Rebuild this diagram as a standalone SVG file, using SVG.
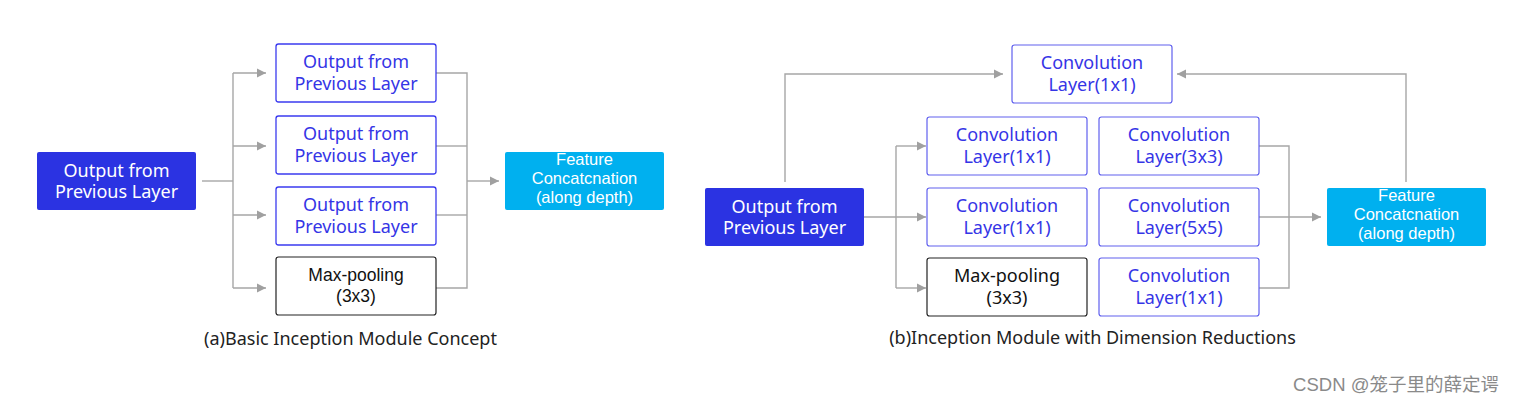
<svg xmlns="http://www.w3.org/2000/svg" width="1517" height="404" viewBox="0 0 1517 404">
<style>
text{font-family:"Noto Sans","Open Sans","Liberation Sans",sans-serif;text-anchor:middle}
.t{font-size:18px;fill:#3535e6}
.tw{font-size:18px;fill:#ffffff}
.tf{font-family:"Liberation Sans","Noto Sans",sans-serif;font-size:16.5px;fill:#ffffff}
.tk{font-size:18px;fill:#111111}
.tks{font-family:"Liberation Sans","Noto Sans",sans-serif;font-size:17.5px;fill:#111111}
.cap{font-size:18px;fill:#222222}
.in{fill:#2b33e2;stroke:none}
.feat{fill:#00b0ef;stroke:none}
.bx{fill:#fff;stroke:#3b3bef;stroke-width:1.3}
.bx2{fill:#fff;stroke:#6060ee;stroke-width:1.2}
.bk{fill:#fff;stroke:#222;stroke-width:1.2}
.ln{fill:none;stroke:#a6a6a6;stroke-width:1.4}
</style>
<defs>
<marker id="ah" viewBox="0 0 10 10" refX="10" refY="5" markerWidth="9" markerHeight="10" markerUnits="userSpaceOnUse" orient="auto">
<path d="M0,0 L10,5 L0,10 z" fill="#a0a0a0"/>
</marker>
</defs>
<rect width="1517" height="404" fill="#fff"/>

<g id="connectors">
<!-- (a) -->
<path class="ln" d="M202,181 H233"/>
<path class="ln" d="M233,73 V288"/>
<path class="ln" d="M233,73 H266" marker-end="url(#ah)"/>
<path class="ln" d="M233,146 H266" marker-end="url(#ah)"/>
<path class="ln" d="M233,215 H266" marker-end="url(#ah)"/>
<path class="ln" d="M233,288 H266" marker-end="url(#ah)"/>
<path class="ln" d="M436,73 H467 V288 H436"/>
<path class="ln" d="M436,146 H467"/>
<path class="ln" d="M436,215 H467"/>
<path class="ln" d="M467,181 H499" marker-end="url(#ah)"/>
<!-- (b) -->
<path class="ln" d="M785,182 V74 H1003" marker-end="url(#ah)"/>
<path class="ln" d="M864,217 H926" marker-end="url(#ah)"/>
<path class="ln" d="M896,146 V288"/>
<path class="ln" d="M896,146 H926" marker-end="url(#ah)"/>
<path class="ln" d="M896,288 H926" marker-end="url(#ah)"/>
<path class="ln" d="M1259,146 H1289 V288 H1259"/>
<path class="ln" d="M1259,217 H1321" marker-end="url(#ah)"/>
<path class="ln" d="M1406,182 V74 H1177" marker-end="url(#ah)"/>
</g>

<!-- (a) nodes -->
<g id="a-input"><rect class="in" x="37" y="152" width="159" height="58" rx="2"/>
<text class="tw" x="116.5" y="177">Output from</text><text class="tw" x="116.5" y="198">Previous Layer</text></g>
<g id="a-out1"><rect class="bx" x="276" y="44" width="160" height="58" rx="2.5"/>
<text class="t" x="356" y="68">Output from</text><text class="t" x="356" y="90">Previous Layer</text></g>
<g id="a-out2"><rect class="bx" x="276" y="116" width="160" height="58" rx="2.5"/>
<text class="t" x="356" y="140">Output from</text><text class="t" x="356" y="162">Previous Layer</text></g>
<g id="a-out3"><rect class="bx" x="276" y="187" width="160" height="58" rx="2.5"/>
<text class="t" x="356" y="211">Output from</text><text class="t" x="356" y="233">Previous Layer</text></g>
<g id="a-pool"><rect class="bk" x="276" y="257" width="160" height="58" rx="2.5"/>
<text class="tks" x="356" y="281">Max-pooling</text><text class="tks" x="356" y="301.5">(3x3)</text></g>
<g id="a-feat"><rect class="feat" x="505" y="152" width="159" height="58" rx="2"/>
<text class="tf" x="584.5" y="165">Feature</text><text class="tf" x="584.5" y="184">Concatcnation</text><text class="tf" x="584.5" y="203">(along depth)</text></g>
<text class="cap" x="350.5" y="345">(a)Basic Inception Module Concept</text>

<!-- (b) nodes -->
<g id="b-input"><rect class="in" x="705" y="188" width="159" height="58" rx="2"/>
<text class="tw" x="784.5" y="213">Output from</text><text class="tw" x="784.5" y="234">Previous Layer</text></g>
<g id="b-top"><rect class="bx2" x="1012" y="45" width="160" height="58" rx="2.5"/>
<text class="t" x="1092" y="69">Convolution</text><text class="t" x="1092" y="91">Layer(1x1)</text></g>
<g id="b-c11a"><rect class="bx2" x="927" y="117" width="160" height="58" rx="2.5"/>
<text class="t" x="1007" y="141">Convolution</text><text class="t" x="1007" y="163">Layer(1x1)</text></g>
<g id="b-c11b"><rect class="bx2" x="927" y="188" width="160" height="58" rx="2.5"/>
<text class="t" x="1007" y="212">Convolution</text><text class="t" x="1007" y="234">Layer(1x1)</text></g>
<g id="b-pool"><rect class="bk" x="927" y="258" width="160" height="58" rx="2.5"/>
<text class="tk" x="1007" y="282">Max-pooling</text><text class="tk" x="1007" y="304">(3x3)</text></g>
<g id="b-c33"><rect class="bx2" x="1099" y="117" width="160" height="58" rx="2.5"/>
<text class="t" x="1179" y="141">Convolution</text><text class="t" x="1179" y="163">Layer(3x3)</text></g>
<g id="b-c55"><rect class="bx2" x="1099" y="188" width="160" height="58" rx="2.5"/>
<text class="t" x="1179" y="212">Convolution</text><text class="t" x="1179" y="234">Layer(5x5)</text></g>
<g id="b-c11c"><rect class="bx2" x="1099" y="258" width="160" height="58" rx="2.5"/>
<text class="t" x="1179" y="282">Convolution</text><text class="t" x="1179" y="304">Layer(1x1)</text></g>
<g id="b-feat"><rect class="feat" x="1327" y="188" width="159" height="58" rx="2"/>
<text class="tf" x="1406.5" y="201">Feature</text><text class="tf" x="1406.5" y="220">Concatcnation</text><text class="tf" x="1406.5" y="239">(along depth)</text></g>
<text class="cap" x="1092.5" y="344">(b)Inception Module with Dimension Reductions</text>

<text x="1396" y="391" style="font-family:'Liberation Sans','Noto Sans CJK SC',sans-serif;font-size:18.5px;fill:#8a8a8a">CSDN @笼子里的薛定谔</text>
</svg>
